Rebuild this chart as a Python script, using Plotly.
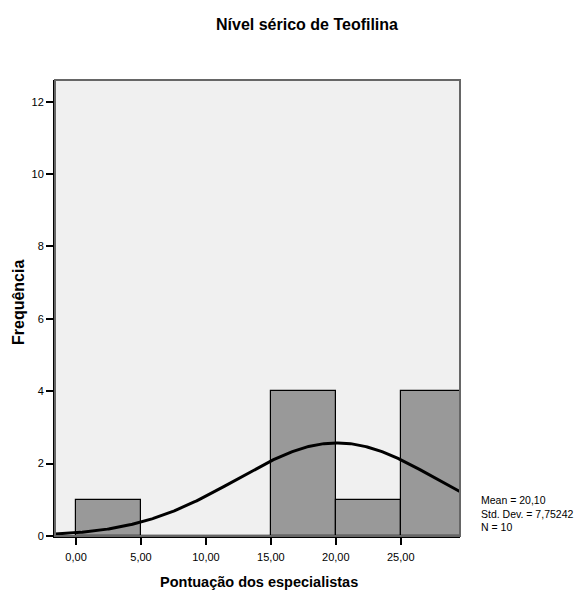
import numpy as np
import plotly.graph_objects as go

# Data
bin_left = [0, 5, 10, 15, 20, 25]
counts = [1, 0, 0, 4, 1, 4]
bin_width = 5
mean_val = 20.10
sd_val = 7.75242
n_val = 10
x_ticks = [0, 5, 10, 15, 20, 25]
x_tick_labels = ["0,00", "5,00", "10,00", "15,00", "20,00", "25,00"]
y_ticks = [0, 2, 4, 6, 8, 10, 12]

x_range = [-1.62, 29.56]
y_range = [0, 12.6]

FONT = "Liberation Sans, Arial, sans-serif"

fig = go.Figure()

centers = [b + bin_width / 2 for b in bin_left]
fig.add_trace(go.Bar(
    x=centers, y=counts, width=[bin_width] * len(centers),
    marker=dict(color="#999999", line=dict(color="#000000", width=1.2)),
    showlegend=False, hoverinfo="skip",
))

# fitted normal curve (from mean / sd / N shown in the chart)
xs = np.linspace(x_range[0] - 0.5, x_range[1] + 0.5, 300)
ys = n_val * bin_width / (sd_val * np.sqrt(2 * np.pi)) * np.exp(-0.5 * ((xs - mean_val) / sd_val) ** 2)
fig.add_trace(go.Scatter(
    x=xs, y=ys, mode="lines", line=dict(color="#000000", width=3),
    showlegend=False, hoverinfo="skip",
))

PW, PH = 405, 456

fig.update_layout(
    width=577, height=598,
    margin=dict(l=55, r=117, t=80, b=62),
    paper_bgcolor="#ffffff", plot_bgcolor="#f0f0f0",
    bargap=0,
    font=dict(family=FONT, size=11, color="#000000"),
    xaxis=dict(
        range=x_range, tickvals=x_ticks, ticktext=x_tick_labels,
        showgrid=False, zeroline=False, automargin=False,
        showline=True, linecolor="#000000", linewidth=2,
        ticks="outside", ticklen=7, tickwidth=1.5, tickcolor="#000000",
        ticklabelstandoff=3,
        tickfont=dict(family=FONT, size=11, color="#000000"),
    ),
    yaxis=dict(
        range=y_range, tickvals=y_ticks,
        showgrid=False, zeroline=False, automargin=False,
        showline=True, linecolor="#000000", linewidth=2,
        ticks="outside", ticklen=7, tickwidth=1.5, tickcolor="#000000",
        tickfont=dict(family=FONT, size=11, color="#000000"),
    ),
    shapes=[dict(type="rect", xref="paper", yref="paper", x0=0, x1=1, y0=0, y1=1,
                 line=dict(color="#666666", width=2), fillcolor="rgba(0,0,0,0)", layer="above")],
    annotations=[
        dict(text="<b>Nível sérico de Teofilina</b>", xref="paper", yref="paper",
             x=(307 - 55) / PW, y=1 + (80 - 25) / PH, showarrow=False,
             xanchor="center", yanchor="middle", font=dict(family=FONT, size=16)),
        dict(text="<b>Pontuação dos especialistas</b>", xref="paper", yref="paper",
             x=(259 - 55) / PW, y=-(582 - 536) / PH, showarrow=False,
             xanchor="center", yanchor="middle", font=dict(family=FONT, size=14.5)),
        dict(text="<b>Frequência</b>", xref="paper", yref="paper", textangle=-90,
             x=-(55 - 18) / PW, y=(536 - 303) / PH, showarrow=False,
             xanchor="center", yanchor="middle", font=dict(family=FONT, size=16)),
        dict(text="Mean = 20,10<br>Std. Dev. = 7,75242<br>N = 10", xref="paper", yref="paper",
             x=1 + (479 - 460) / PW, y=(536 - 513) / PH, showarrow=False,
             xanchor="left", yanchor="middle", align="left", font=dict(family=FONT, size=10.5)),
    ],
)

fig.write_html("out.html")
